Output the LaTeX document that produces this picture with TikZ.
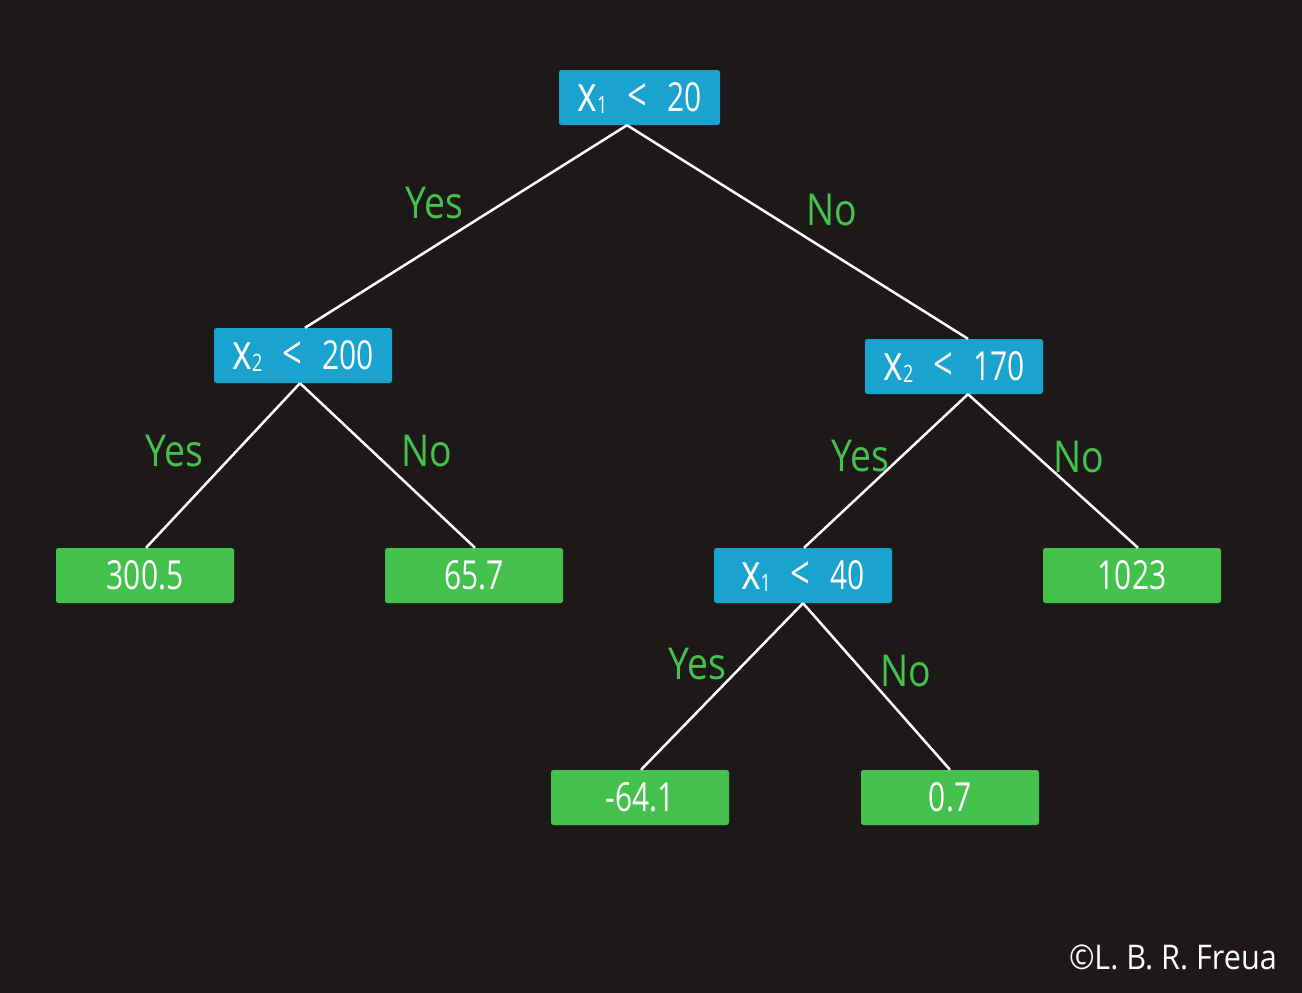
\documentclass[tikz,border=0pt]{standalone}
\usepackage{fontspec}
\newfontfamily\handfont[FakeStretch=0.75]{Open Sans}
\newfontfamily\labfont[FakeStretch=0.85]{Open Sans}
\newfontfamily\copyfont[FakeStretch=0.9]{Open Sans}
\definecolor{bgc}{HTML}{1E1919}
\definecolor{bluec}{HTML}{1AA3CF}
\definecolor{greenc}{HTML}{45C24E}
\begin{document}
\begin{tikzpicture}[x=1pt,y=-1pt,
  box/.style={rounded corners=2.5pt, inner sep=0pt, minimum width=178pt, minimum height=55pt,
    text=white, font=\handfont\fontsize{40}{40}\selectfont},
  splitbox/.style={box, fill=bluec},
  leafbox/.style={box, fill=greenc},
  edge/.style={draw=white, line width=2.5pt},
  elabel/.style={text=greenc, font=\labfont\fontsize{44}{44}\selectfont, inner sep=0pt}
]
\fill[bgc] (0,0) rectangle (1302,993);
\useasboundingbox (0,0) rectangle (1302,993);

\newcommand{\bigx}{{\fontsize{50}{50}\selectfont x}}
\newcommand{\sub}[1]{\raisebox{-0.05em}{\fontsize{24}{24}\selectfont #1}}
\newcommand{\gap}{\hspace{0.5em}}
\newcommand{\lt}{{\fontsize{46}{46}\selectfont <}}

\node[splitbox, minimum width=161pt] (root) at (639.5,97.5) {\bigx\sub{1}\gap\lt\gap 20};
\node[splitbox] (left) at (303,355.5) {\bigx\sub{2}\gap\lt\gap 200};
\node[splitbox] (right) at (954,366.5) {\bigx\sub{2}\gap\lt\gap 170};
\node[leafbox] (l1) at (145,575.5) {300.5};
\node[leafbox] (l2) at (474,575.5) {65.7};
\node[splitbox] (mid) at (803,575.5) {\bigx\sub{1}\gap\lt\gap 40};
\node[leafbox] (l3) at (1132,575.5) {1023};
\node[leafbox] (l4) at (640,797.5) {-64.1};
\node[leafbox] (l5) at (950,797.5) {0.7};

\draw[edge] ([xshift=-12.5pt]root.south) -- ([xshift=2pt]left.north);
\draw[edge] ([xshift=-12.5pt]root.south) -- ([xshift=14pt]right.north);
\draw[edge] ([xshift=-3pt]left.south) -- ([xshift=1pt]l1.north);
\draw[edge] ([xshift=-3pt]left.south) -- ([xshift=1pt]l2.north);
\draw[edge] ([xshift=14pt]right.south) -- ([xshift=1pt]mid.north);
\draw[edge] ([xshift=14pt]right.south) -- ([xshift=6pt]l3.north);
\draw[edge] (mid.south) -- ([xshift=1pt]l4.north);
\draw[edge] (mid.south) -- (l5.north);

\node[elabel] (y1) at (434,203) {Yes};
\node[elabel] (n1) at (832,210) {No};
\node[elabel] (y2) at (174,451) {Yes};
\node[elabel] (n2) at (427,451) {No};
\node[elabel] (y3) at (860,456) {Yes};
\node[elabel] (n3) at (1079,457) {No};
\node[elabel] (y4) at (697,664) {Yes};
\node[elabel] (n4) at (906,671) {No};

\node[text=white, font=\copyfont\fontsize{34}{34}\selectfont, inner sep=0pt, anchor=east] (copy) at (1277,957) {©L. B. R. Freua};
\end{tikzpicture}
\end{document}
